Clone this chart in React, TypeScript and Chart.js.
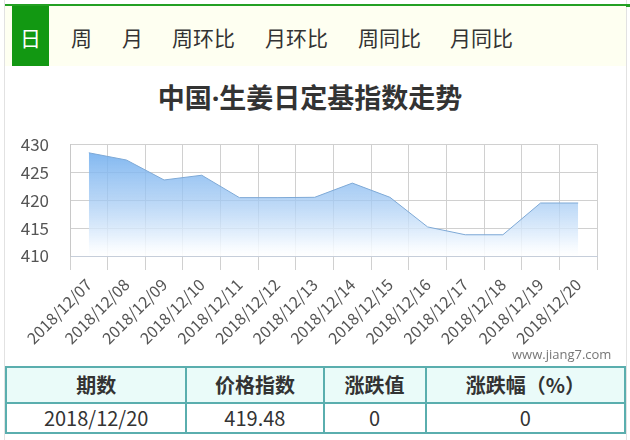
import React, { useEffect, useRef } from "react";
import { Chart, registerables } from "chart.js";

Chart.register(...registerables);

const categories = [
  "2018/12/07", "2018/12/08", "2018/12/09", "2018/12/10", "2018/12/11",
  "2018/12/12", "2018/12/13", "2018/12/14", "2018/12/15", "2018/12/16",
  "2018/12/17", "2018/12/18", "2018/12/19", "2018/12/20",
];
const indexValues = [
  428.46, 427.17, 423.6, 424.45, 420.44, 420.44, 420.5, 423.04, 420.5, 415.2,
  413.8, 413.8, 419.48, 419.48,
];
const yTicks = [410, 415, 420, 425, 430];
const tabs = ["日", "周", "月", "周环比", "月环比", "周同比", "月同比"];
const tabLefts = [12, 71, 122, 172, 265, 358, 450];
const tableHeaders = ["期数", "价格指数", "涨跌值", "涨跌幅（%）"];
const tableRow = ["2018/12/20", "419.48", "0", "0"];
const colWidths = [180, 137, 102, 199];

const CJK = '"Noto Sans CJK SC", "Noto Sans", sans-serif';

function ChartCanvas() {
  const ref = useRef<HTMLCanvasElement>(null);
  useEffect(() => {
    if (!ref.current) return;
    const chart = new Chart(ref.current, {
      type: "line",
      data: {
        labels: categories,
        datasets: [
          {
            data: indexValues,
            borderColor: "#7ea9d6",
            borderWidth: 1,
            pointRadius: 0,
            tension: 0,
            fill: "origin",
            backgroundColor: (ctx: any) => {
              const ca = ctx.chart.chartArea;
              if (!ca) return "rgba(120,175,235,0.6)";
              const g = ctx.chart.ctx.createLinearGradient(0, ca.top, 0, ca.bottom);
              g.addColorStop(0, "rgba(105,170,238,0.9)");
              g.addColorStop(0.5, "rgba(160,200,243,0.75)");
              g.addColorStop(0.92, "rgba(245,250,255,0.85)");
              g.addColorStop(1, "rgba(255,255,255,0.9)");
              return g;
            },
          },
        ],
      },
      options: {
        animation: false,
        responsive: false,
        maintainAspectRatio: false,
        layout: { padding: { top: 13, right: 33, left: 0, bottom: 0 } },
        plugins: { legend: { display: false }, tooltip: { enabled: false } },
        scales: {
          x: {
            offset: true,
            grid: { offset: true, color: "#d0d0d0", tickLength: 14 },
            border: { color: "#c6ceda" },
            ticks: {
              color: "#555",
              font: { family: CJK, size: 16 },
              maxRotation: 45,
              minRotation: 45,
              padding: 5,
              autoSkip: false,
            },
            afterFit: (s: any) => {
              s.height = 94;
            },
          },
          y: {
            min: 410,
            max: 430,
            afterBuildTicks: (s: any) => {
              s.ticks = yTicks.map((v) => ({ value: v }));
            },
            grid: { color: "#d0d0d0", drawTicks: false },
            border: { color: "#c8c8c8" },
            ticks: {
              color: "#555",
              font: { family: CJK, size: 17 },
              padding: 21,
            },
            afterFit: (s: any) => {
              s.width = 70;
            },
          },
        },
      },
    });
    return () => chart.destroy();
  }, []);
  return (
    <canvas
      ref={ref}
      width={630}
      height={237}
      style={{ position: "absolute", left: 0, top: 113, width: 630, height: 237 }}
    />
  );
}

export default function App() {
  return (
    <div
      style={{
        position: "absolute",
        left: 0,
        top: 0,
        width: 630,
        height: 440,
        background: "#fff",
        fontFamily: CJK,
        overflow: "hidden",
      }}
    >
      <div style={{ position: "absolute", left: 4, top: 0, width: 1, height: 440, background: "#e2e2e2" }} />
      <div style={{ position: "absolute", left: 626, top: 0, width: 1, height: 440, background: "#e2e2e2" }} />
      <div style={{ position: "absolute", left: 5, top: 4, width: 625, height: 2.5, background: "#23a023" }} />
      <div style={{ position: "absolute", left: 5, top: 6, width: 621, height: 60, background: "#fefff1" }} />
      <div style={{ position: "absolute", left: 12, top: 6, width: 37, height: 60, background: "#129812" }} />
      {tabs.map((t, i) => (
        <div
          key={t}
          style={{
            position: "absolute",
            left: i === 0 ? 12 : tabLefts[i],
            top: 22,
            width: i === 0 ? 37 : undefined,
            textAlign: i === 0 ? "center" : "left",
            fontSize: 21,
            lineHeight: "30px",
            color: i === 0 ? "#fff" : "#333",
            whiteSpace: "nowrap",
          }}
        >
          {t}
        </div>
      ))}
      <div
        style={{
          position: "absolute",
          left: 0,
          top: 80,
          width: 620,
          textAlign: "center",
          fontSize: 27,
          fontWeight: "bold",
          lineHeight: "34px",
          color: "#333",
          whiteSpace: "nowrap",
        }}
      >
        中国<span style={{ fontFamily: '"Open Sans", "Noto Sans", sans-serif' }}>·</span>生姜日定基指数走势
      </div>
      <ChartCanvas />
      <div
        style={{
          position: "absolute",
          left: 512,
          top: 345,
          fontSize: 13,
          lineHeight: "18px",
          color: "#777",
          fontFamily: '"Open Sans", "Noto Sans", sans-serif',
        }}
      >
        www.jiang7.com
      </div>
      <table
        style={{
          position: "absolute",
          left: 5,
          top: 366,
          width: 621,
          borderCollapse: "collapse",
          tableLayout: "fixed",
          fontSize: 20,
          color: "#333",
        }}
      >
        <colgroup>
          {colWidths.map((w, i) => (
            <col key={i} style={{ width: w }} />
          ))}
        </colgroup>
        <tbody>
          <tr style={{ height: 36, background: "#eafbf9" }}>
            {tableHeaders.map((h) => (
              <td
                key={h}
                style={{
                  border: "2px solid #5aaeae",
                  textAlign: "center",
                  fontWeight: "bold",
                  padding: 0,
                  lineHeight: "32px",
                }}
              >
                {h}
              </td>
            ))}
          </tr>
          <tr style={{ height: 30, background: "#fff" }}>
            {tableRow.map((c, i) => (
              <td
                key={i}
                style={{
                  border: "2px solid #5aaeae",
                  textAlign: "center",
                  padding: 0,
                  lineHeight: "26px",
                }}
              >
                {c}
              </td>
            ))}
          </tr>
        </tbody>
      </table>
    </div>
  );
}
